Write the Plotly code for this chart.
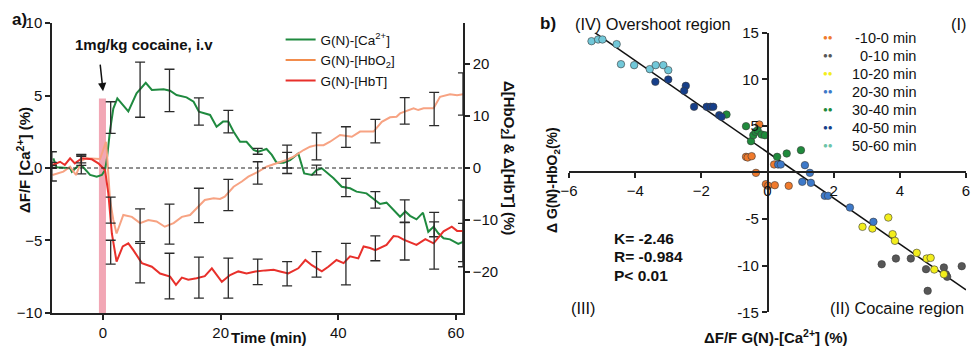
import plotly.graph_objects as go

# ---------------- Panel a data ----------------
ca_t = [-8.45, -7.9, -5.6, -5.3, -4.5, -3.9, -3.35, -2.2, -1.07, -0.2, 0.34, 0.63, 1.19, 1.75, 2.43, 4.3, 5.7, 7.26,
        8.3, 10.3, 11.4, 12.5, 14.2, 15.4, 16.3, 18.2, 19.3, 20.4, 21.3, 22.2, 23.3, 24.4, 25.6, 26.4, 27.8, 28.7,
        29.5, 30.7, 31.8, 33.2, 34.2, 35.5, 36.3, 37.2, 39.2, 40.6, 42.0, 43.1, 44.8, 46.3, 47.1, 48.2, 49.4, 50.5,
        51.4, 52.2, 53.3, 54.4, 55.3, 56.2, 57.0, 57.9, 59.0, 60.4, 61.3]
ca_v = [0.67, 0.05, -0.02, -0.26, 0.05, 0.2, 0.05, -0.48, -0.6, -0.48, -0.14, 0.55, 2.6, 4.1, 4.8, 3.9, 5.15, 5.88,
        5.38, 5.43, 5.33, 5.03, 4.87, 4.57, 3.88, 3.66, 2.85, 3.2, 3.2, 2.5, 1.81, 1.81, 1.24, 1.12, 1.31, 0.9,
        0.37, 0.37, 0.55, 1.01, -0.37, -0.48, -0.14, -0.02, -0.71, -1.29, -1.4, -1.63, -1.75, -2.2, -2.48, -2.39,
        -2.9, -3.36, -3.0, -3.3, -3.54, -3.08, -4.4, -4.05, -4.5, -4.85, -4.92, -5.24, -5.08]

hbo2_t = [-8.6, -6.75, -5.6, -4.6, -3.6, -2.8, -0.5, 0.5, 0.7, 1.19, 1.75, 2.3, 3.45, 4.9, 6.3, 7.7, 9.1, 10.5, 12.0,
          13.4, 14.8, 15.9, 17.3, 18.8, 19.9, 20.7, 22.2, 23.6, 24.7, 26.4, 27.8, 29.5, 31.2, 32.4, 34.1, 35.2, 36.3,
          37.5, 38.6, 40.3, 42.3, 43.7, 46.0, 47.4, 48.8, 49.9, 50.5, 52.8, 53.6, 54.5, 56.2, 57.3, 59.0, 60.2, 61.3]
hbo2_v = [-1.35, -0.7, 0.25, -1.35, 1.5, 1.87, 1.73, 5.06, 2.2, -6.15, -10.0, -12.6, -9.04, -9.4, -10.6, -10.0,
          -10.3, -11.3, -10.6, -9.4, -9.04, -7.75, -6.15, -5.83, -5.96, -5.5, -3.6, -2.6, -1.67, -0.7, 0.25, 0.9,
          1.54, 2.2, 3.46, 4.1, 4.4, 4.4, 5.06, 6.35, 6.0, 7.0, 7.0, 8.9, 9.75, 9.87, 10.5, 11.5, 11.15, 11.5, 11.5,
          13.7, 14.2, 14.0, 14.2]

hbt_t = [-8.6, -7.3, -6.5, -5.6, -4.8, -3.6, -1.9, -0.8, 0.34, 0.9, 1.5, 2.3, 3.35, 4.3, 5.15, 6.6, 8.3, 9.7, 11.4,
         12.4, 13.4, 14.5, 15.9, 17.3, 18.5, 20.2, 21.6, 23.0, 24.4, 25.9, 27.6, 29.0, 30.1, 31.5, 33.2, 34.4, 35.5,
         37.2, 38.3, 39.7, 40.9, 42.0, 43.4, 44.3, 45.4, 46.3, 48.2, 49.4, 50.2, 51.1, 53.3, 54.8, 56.2, 57.9, 59.3,
         60.2, 61.3]
hbt_v = [0.58, 1.2, 0.58, 1.87, 0.9, 1.87, 1.67, 0.9, -0.38, -4.9, -12.6, -18.0, -15.1, -14.5, -15.8, -18.3, -19.0,
         -20.3, -20.9, -22.5, -21.1, -21.5, -21.2, -20.8, -19.3, -21.9, -20.6, -19.9, -20.3, -19.9, -19.7, -19.6,
         -19.9, -20.3, -19.3, -17.7, -18.7, -19.9, -19.0, -17.7, -18.3, -17.0, -17.4, -15.1, -15.4, -15.8, -14.8,
         -13.1, -13.2, -13.8, -14.8, -13.7, -14.5, -12.2, -11.3, -12.1, -12.1]

err_t = [-8.7, -3.7, 1.3, 6.3, 11.3, 16.3, 21.3, 26.3, 31.3, 36.3, 41.3, 46.3, 51.3, 56.3, 61.2]
ca_err_c = [0.55, 0.2, 3.48, 5.4, 5.35, 3.9, 3.2, 1.15, 0.6, -0.14, -1.34, -2.2, -2.97, -3.9, -5.14]
ca_err = [0.57, 0.6, 1.09, 1.9, 1.46, 0.94, 0.78, 0.2, 0.98, 0.34, 0.63, 0.57, 0.77, 0.84, 1.32]
hbo2_err_c = [-1.0, 1.5, -8.1, -11.0, -10.8, -7.2, -5.2, -0.95, 1.5, 4.17, 5.96, 7.1, 11.0, 11.35, 14.25]
hbo2_err = [1.5, 1.0, 2.5, 3.15, 3.85, 3.3, 3.0, 2.15, 1.5, 2.6, 1.98, 2.25, 2.56, 3.2, 4.07]
hbt_err_c = [0.6, 1.8, -16.2, -18.3, -20.8, -21.1, -21.2, -20.0, -20.35, -18.55, -18.5, -15.45, -14.1, -14.9, -12.6]
hbt_err = [0.5, 0.8, 2.3, 3.8, 4.4, 3.95, 3.85, 2.45, 2.35, 2.45, 4.0, 2.4, 3.6, 4.55, 6.4]

inj_start, inj_end, inj_top = -0.7, 0.5, 4.8

# ---------------- Panel b data ----------------
groups = ["-10-0 min", "0-10 min", "10-20 min", "20-30 min", "30-40 min", "40-50 min", "50-60 min"]
g_m10_0_x = [-0.25, -0.65, -0.6, -0.48, -0.35, 0.2, -0.05, 0.02, 0.22, 0.64]
g_m10_0_y = [5.15, 1.68, 1.61, 1.75, -0.04, 0.86, -1.25, -1.43, -1.36, -1.43]
g_0_10_x = [3.45, 3.88, 4.33, 4.79, 4.84, 5.33, 5.39, 5.43, 5.87]
g_0_10_y = [-9.84, -9.23, -9.23, -10.37, -12.7, -10.19, -10.91, -11.19, -10.05]
g_10_20_x = [2.87, 3.17, 3.65, 3.78, 3.85, 4.51, 4.81, 4.93, 5.04, 5.33]
g_10_20_y = [-5.83, -6.01, -4.83, -6.62, -7.33, -8.62, -9.23, -9.16, -10.41, -10.91]
g_20_30_x = [0.32, 0.4, 1.13, 1.28, 1.05, 1.31, 1.73, 1.83, 2.49, 3.2]
g_20_30_y = [0.86, 0.86, 0.79, -0.04, -1.0, -1.11, -2.5, -2.5, -3.76, -5.29]
g_30_40_x = [-1.24, -0.65, -0.5, -0.43, -0.36, -0.3, -0.18, -0.08, 0.29, 0.58, 1.01]
g_30_40_y = [6.22, 4.97, 3.36, 4.0, 4.36, 4.54, 4.08, 4.0, 1.68, 2.04, 2.4]
g_40_50_x = [-3.39, -3.0, -2.47, -2.52, -2.22, -1.84, -1.72, -1.64, -1.46, -1.39]
g_40_50_y = [9.73, 9.98, 9.3, 8.76, 7.05, 7.05, 7.05, 7.05, 6.15, 5.97]
g_50_60_x = [-5.32, -5.12, -4.99, -4.56, -4.43, -4.03, -3.56, -3.38, -3.15, -3.0]
g_50_60_y = [14.09, 14.27, 14.27, 13.77, 11.62, 11.52, 11.09, 11.52, 11.52, 10.98]
group_x = [g_m10_0_x, g_0_10_x, g_10_20_x, g_20_30_x, g_30_40_x, g_40_50_x, g_50_60_x]
group_y = [g_m10_0_y, g_0_10_y, g_10_20_y, g_20_30_y, g_30_40_y, g_40_50_y, g_50_60_y]
group_colors = ["#f07a2c", "#575757", "#f3ee1c", "#3d79c9", "#1f8a3c", "#163f8a", "#72c8d9"]
legend_colors = ["#f07a2c", "#575757", "#f3ee1c", "#3d79c9", "#1f8a3c", "#163f8a", "#6cc4a8"]

fit_K, fit_b = -2.46, 2.16
fit_x = [-5.22, 6.0]
stats_text = ["K= -2.46", "R= -0.984", "P< 0.01"]

FONT = "Liberation Sans, Arial, Helvetica, sans-serif"
GREEN, SALMON, ORANGE, RED = "#1f8a3f", "#f7a383", "#f28c4c", "#e8302b"

fig = go.Figure()

# ---- panel a lines ----
fig.add_trace(go.Scatter(x=ca_t, y=ca_v, mode="lines", line=dict(color=GREEN, width=2),
                         name="G(N)-[Ca<sup>2+</sup>]", xaxis="x", yaxis="y", legend="legend"))
fig.add_trace(go.Scatter(x=hbo2_t, y=hbo2_v, mode="lines", line=dict(color=SALMON, width=2),
                         showlegend=False, xaxis="x", yaxis="y2"))
fig.add_trace(go.Scatter(x=[None], y=[None], mode="lines", line=dict(color=ORANGE, width=2),
                         name="G(N)-[HbO<sub>2</sub>]", xaxis="x", yaxis="y2", legend="legend"))
fig.add_trace(go.Scatter(x=hbt_t, y=hbt_v, mode="lines", line=dict(color=RED, width=2),
                         name="G(N)-[HbT]", xaxis="x", yaxis="y2", legend="legend"))

errstyle = dict(type="data", color="#2b2b2b", thickness=1.3, width=5, visible=True)
fig.add_trace(go.Scatter(x=err_t, y=ca_err_c, mode="markers", marker=dict(size=1, color="rgba(0,0,0,0)"),
                         error_y=dict(array=ca_err, **errstyle), showlegend=False, hoverinfo="skip",
                         cliponaxis=False, xaxis="x", yaxis="y"))
fig.add_trace(go.Scatter(x=err_t, y=hbo2_err_c, mode="markers", marker=dict(size=1, color="rgba(0,0,0,0)"),
                         error_y=dict(array=hbo2_err, **errstyle), showlegend=False, hoverinfo="skip",
                         cliponaxis=False, xaxis="x", yaxis="y2"))
fig.add_trace(go.Scatter(x=err_t, y=hbt_err_c, mode="markers", marker=dict(size=1, color="rgba(0,0,0,0)"),
                         error_y=dict(array=hbt_err, **errstyle), showlegend=False, hoverinfo="skip",
                         cliponaxis=False, xaxis="x", yaxis="y2"))

# ---- panel b ----
fig.add_trace(go.Scatter(x=fit_x, y=[fit_K * v + fit_b for v in fit_x], mode="lines",
                         line=dict(color="#111111", width=1.5), showlegend=False,
                         xaxis="x3", yaxis="y3"))
for name, gx, gy, col in zip(groups, group_x, group_y, group_colors):
    fig.add_trace(go.Scatter(x=gx, y=gy, mode="markers", name=name,
                             marker=dict(size=7.5, color=col, line=dict(width=0.6, color="#3a3a3a")),
                             showlegend=False, xaxis="x3", yaxis="y3"))

axis_common = dict(showline=True, linecolor="#222", linewidth=1.5, ticks="outside", tickcolor="#222",
                   ticklen=5, tickwidth=1.5, showgrid=False, zeroline=False,
                   tickfont=dict(family=FONT, size=15, color="#111"))

fig.update_layout(
    width=971, height=346, margin=dict(l=0, r=0, t=0, b=0, autoexpand=False),
    paper_bgcolor="white", plot_bgcolor="rgba(0,0,0,0)",
    showlegend=True,
    xaxis=dict(domain=[0.0536, 0.4768], range=[-8.67, 61.2], tickvals=[0, 20, 40, 60], anchor="y",
               **axis_common),
    yaxis=dict(domain=[0.0954, 0.9335], range=[-10, 10], tickvals=[-10, -5, 0, 5, 10], anchor="x",
               **axis_common),
    yaxis2=dict(domain=[0.0954, 0.9335], range=[-27.9, 27.9], tickvals=[-20, -10, 0, 10, 20],
                overlaying="y", side="right", anchor="x", **axis_common),
    xaxis3=dict(domain=[0.586, 0.9949], range=[-6, 6], tickvals=[-6, -4, -2, 0, 2, 4, 6],
                anchor="free", position=0.502, **axis_common),
    yaxis3=dict(domain=[0.0974, 0.9055], range=[-15, 15], tickvals=[-15, -10, -5, 0, 5, 10, 15],
                ticktext=["-15", "-10", "-5", "", "5", "10", "15"],
                anchor="free", position=0.7905, **axis_common),
    legend=dict(x=0.289, y=0.93, xanchor="left", yanchor="top", bgcolor="rgba(0,0,0,0)",
                font=dict(family=FONT, size=13.5, color="#111"), tracegroupgap=0, itemwidth=30),
)

# shapes: zero reference line and injection bar
fig.add_shape(type="line", xref="x domain", x0=0, x1=1, yref="y", y0=0, y1=0,
              line=dict(color="#222", width=1.2, dash="4px,3px"), layer="above")
fig.add_shape(type="rect", xref="x", yref="y", x0=inj_start, x1=inj_end, y0=-10, y1=inj_top,
              fillcolor="#f2a7b5", line=dict(width=0), layer="below")

def px(xp, yp):
    return xp / 971, 1 - yp / 346

anns = []
def txt(text, xp, yp, size=15, bold=False, angle=0, xanchor="center", color="#111"):
    x, y = px(xp, yp)
    t = f"<b>{text}</b>" if bold else text
    anns.append(dict(text=t, x=x, y=y, xref="paper", yref="paper", showarrow=False, textangle=angle,
                     xanchor=xanchor, yanchor="middle", font=dict(family=FONT, size=size, color=color)))

txt("a)", 19, 20, size=17, bold=True)
txt("b)", 548, 23, size=17, bold=True)
txt("1mg/kg cocaine, i.v", 144, 45, size=15, bold=True)
txt("ΔF/F [Ca<sup>2+</sup>] (%)", 23, 160, size=15, bold=True, angle=-90)
txt("Δ[HbO<sub>2</sub>] & Δ[HbT] (%)", 508, 158, size=15, bold=True, angle=90)
txt("Time (min)", 269, 337, size=15, bold=True)
txt("(IV) Overshoot region", 573, 24, size=16.3, xanchor="left")
txt("(I)", 958, 24, size=16.3)
txt("(III)", 583, 308, size=16.3)
txt("(II) Cocaine region", 828, 308, size=16.3, xanchor="left")
txt("ΔF/F G(N)-[Ca<sup>2+</sup>] (%)", 776, 336, size=15, bold=True)
txt("Δ G(N)-HbO<sub>2</sub>(%)", 553, 180, size=14, bold=True, angle=-90)
for i, s in enumerate(stats_text):
    txt(s, 612, 238 + 18.5 * i, size=15.5, bold=True, xanchor="left")

# legend of panel b (two dots + label, labels right aligned as in the original)
for i, (name, lcol) in enumerate(zip(groups, legend_colors)):
    yrow = 37.7 + 18.0 * i
    txt("\u25cf\u25cf", 828, yrow, size=8, color=lcol)
    txt(name, 918, yrow, size=14.5, xanchor="right")

# arrow pointing at injection
anns.append(dict(text="", x=0, y=5.3, xref="x", yref="y", showarrow=True, ax=-3, ay=-28,
                 arrowhead=2, arrowsize=1.1, arrowwidth=1.5, arrowcolor="#111"))
fig.update_layout(annotations=anns)

fig.write_html("out.html", config={"displayModeBar": False},
               post_script="document.body.style.margin='0px';")
